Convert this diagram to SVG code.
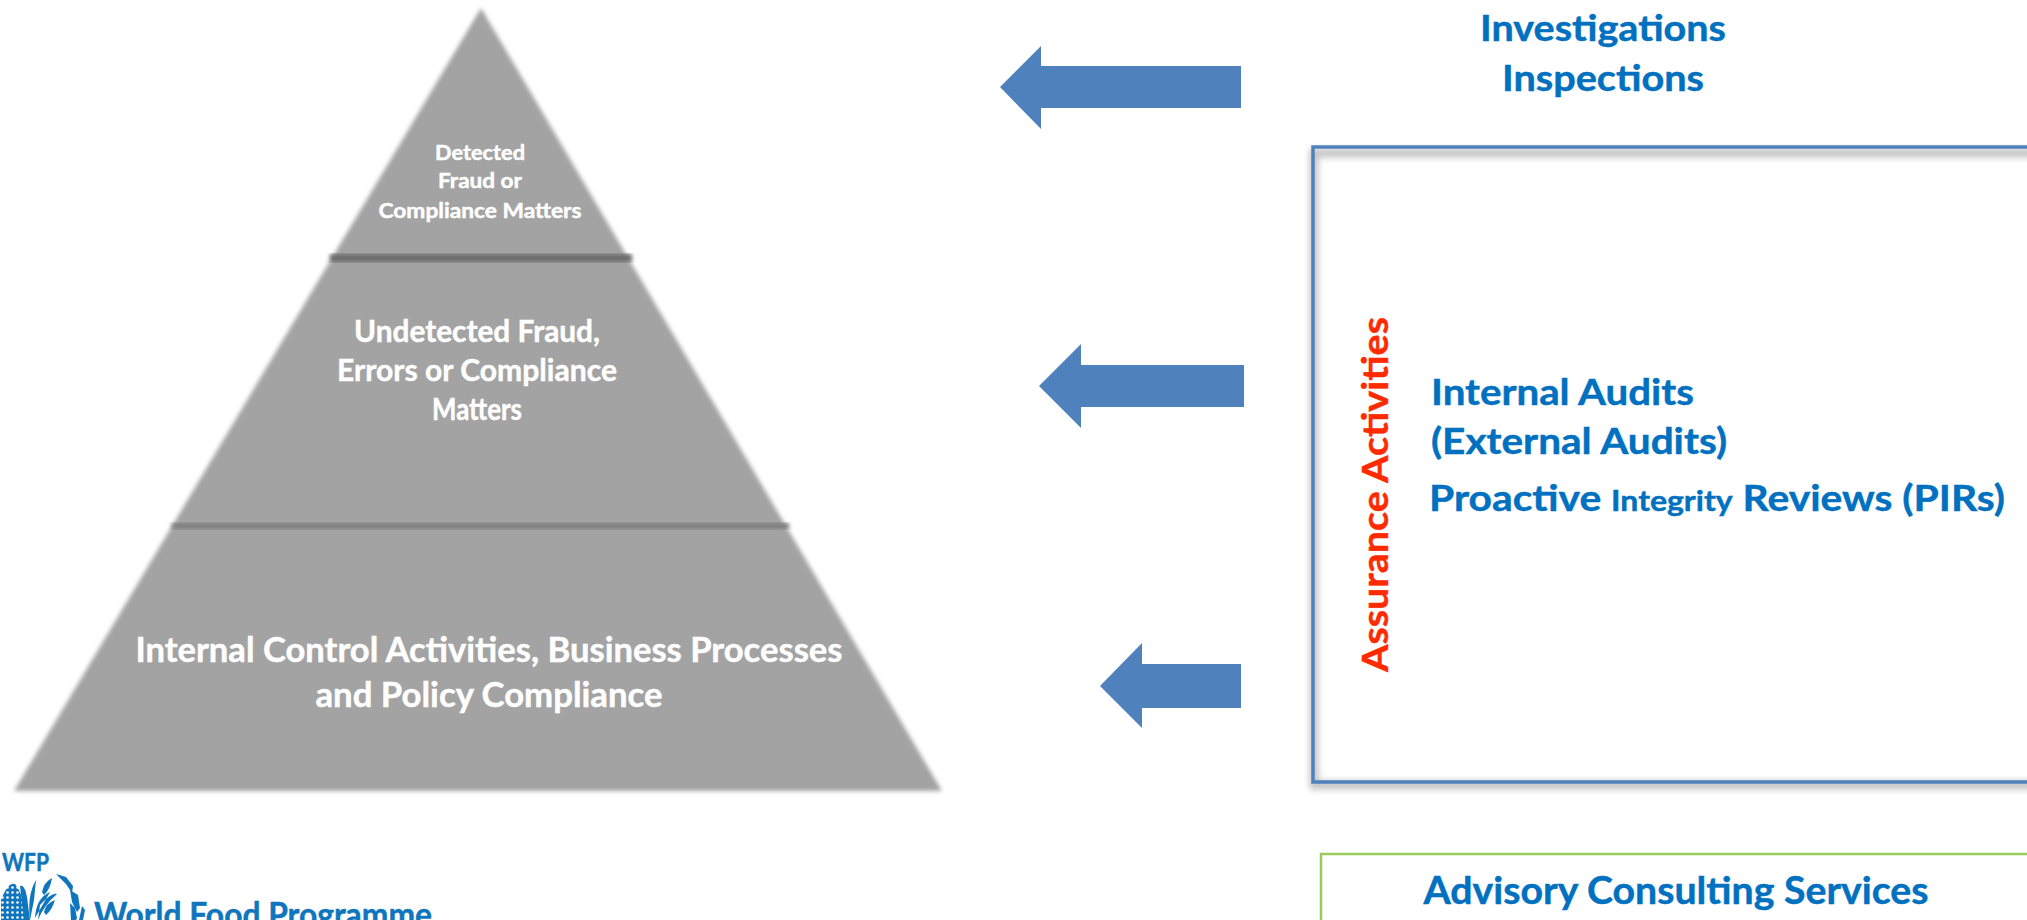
<svg xmlns="http://www.w3.org/2000/svg" width="2027" height="920" viewBox="0 0 2027 920">
<style>
text{font-family:"Lato","Open Sans","Liberation Sans",sans-serif;font-weight:700;stroke-width:.45px}
.w{fill:#fff;stroke:#fff;text-anchor:middle}
.b{fill:#0070c0;stroke:#0070c0}
.m{text-anchor:middle}
.arrow{fill:#4f81bd}
</style>
<defs>
<filter id="soft" x="-5%" y="-5%" width="110%" height="110%"><feGaussianBlur stdDeviation="2.2"/></filter>
<filter id="shadow" x="-5%" y="-5%" width="110%" height="110%"><feGaussianBlur stdDeviation="3"/></filter>
<pattern id="kernels" width="5" height="5" patternUnits="userSpaceOnUse"><rect width="5" height="5" fill="#0f75bc"/><circle cx="2.5" cy="2.5" r="1.3" fill="#fff"/></pattern>
</defs>
<g id="pyramid">
<polygon points="481,8 14,791 942,791" fill="#a3a3a3" filter="url(#soft)"/>
<rect x="330" y="254" width="302" height="8" fill="#6a6a6a" filter="url(#soft)"/>
<rect x="172" y="523" width="617" height="6" fill="#7d7d7d" filter="url(#soft)"/>
</g>
<g id="tier-top">
<text class="w" x="480" y="160" font-size="20" textLength="90" lengthAdjust="spacingAndGlyphs">Detected</text>
<text class="w" x="480" y="188" font-size="20" textLength="84" lengthAdjust="spacingAndGlyphs">Fraud or</text>
<text class="w" x="480" y="218" font-size="20" textLength="203" lengthAdjust="spacingAndGlyphs">Compliance Matters</text>
</g>
<g id="tier-middle">
<text class="w" x="477" y="342" font-size="30" textLength="246" lengthAdjust="spacingAndGlyphs">Undetected Fraud,</text>
<text class="w" x="477" y="381" font-size="30" textLength="280" lengthAdjust="spacingAndGlyphs">Errors or Compliance</text>
<text class="w" x="477" y="420" font-size="30" textLength="90" lengthAdjust="spacingAndGlyphs">Matters</text>
</g>
<g id="tier-bottom">
<text class="w" x="489" y="662" font-size="34" textLength="707" lengthAdjust="spacingAndGlyphs">Internal Control Activities, Business Processes</text>
<text class="w" x="489" y="707" font-size="34" textLength="347" lengthAdjust="spacingAndGlyphs">and Policy Compliance</text>
</g>
<g id="connectors">
<polygon class="arrow" points="1000,87 1041,46 1041,66 1241,66 1241,108 1041,108 1041,129"/>
<polygon class="arrow" points="1039,386 1081,344 1081,365 1244,365 1244,407 1081,407 1081,428"/>
<polygon class="arrow" points="1100,686 1142,643 1142,664 1241,664 1241,708 1142,708 1142,728"/>
</g>
<g id="investigations">
<text class="b m" x="1603" y="41" font-size="37" textLength="246" lengthAdjust="spacingAndGlyphs">Investigations</text>
<text class="b m" x="1603" y="91" font-size="37" textLength="202" lengthAdjust="spacingAndGlyphs">Inspections</text>
</g>
<g id="assurance">
<rect x="1312" y="146" width="740" height="636" fill="#fff"/>
<rect x="1314" y="153" width="740" height="632" fill="none" stroke="#8a8a8a" stroke-width="9" opacity=".5" filter="url(#shadow)"/>
<rect x="1313" y="147" width="740" height="635" fill="none" stroke="#4f81bd" stroke-width="3.5"/>
<text transform="translate(1388 672) rotate(-90)" font-size="37" fill="#ff2a00" stroke="#ff2a00" textLength="355" lengthAdjust="spacingAndGlyphs">Assurance Activities</text>
<text class="b" x="1431" y="405" font-size="37" textLength="263" lengthAdjust="spacingAndGlyphs">Internal Audits</text>
<text class="b" x="1431" y="454" font-size="37" textLength="296" lengthAdjust="spacingAndGlyphs">(External Audits)</text>
<text class="b" x="1429" y="511" font-size="37" textLength="576" lengthAdjust="spacingAndGlyphs">Proactive <tspan font-size="29">Integrity</tspan> Reviews (PIRs)</text>
</g>
<g id="advisory">
<rect x="1321" y="854" width="730" height="90" fill="#fff" stroke="#9bcb5d" stroke-width="2.5"/>
<text class="b m" x="1676" y="904" font-size="38" textLength="505" lengthAdjust="spacingAndGlyphs">Advisory Consulting Services</text>
</g>
<g id="logo" fill="#0f75bc">
<text x="2" y="871" font-size="24" fill="#0f75bc" stroke="#0f75bc" textLength="47" lengthAdjust="spacingAndGlyphs">WFP</text>
<text x="94" y="927" font-size="34" fill="#0f75bc" stroke="#0f75bc" textLength="338" lengthAdjust="spacingAndGlyphs">World Food Programme</text>
<path d="M1,900 Q8,882 15,884 Q24,895 26,920 L1,920Z" fill="url(#kernels)"/>
<path d="M20,886 Q26,884 28,905 L30,920 L24,920Z"/>
<path d="M30,920 Q27,895 36,880 L34,900Z M35,918 Q36,898 50,892 L42,906Z M38,920 Q44,905 57,894 Q52,892 40,905Z"/>
<path d="M42,892 Q44,882 52,878 Q50,890 44,895Z M44,912 Q46,903 55,900 Q52,910 46,915Z"/>
<path d="M56,874 L66,877 L73,886 L72,893 L66,884Z M70,890 L78,895 L80,908 L77,912 L72,902Z M70,903 L75,908 L77,918 L76,920 L71,920Z M82,906 L85,910 L83,920 L79,920Z"/>
</g>
</svg>
